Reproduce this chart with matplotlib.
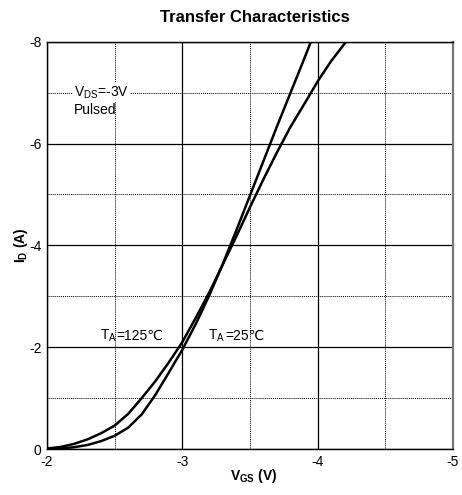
import numpy as np
import matplotlib
matplotlib.use('Agg')
import matplotlib.pyplot as plt
from matplotlib.ticker import MultipleLocator

plt.rcParams['font.family'] = ['Liberation Sans', 'DejaVu Sans']
plt.rcParams['mathtext.fontset'] = 'custom'
plt.rcParams['mathtext.rm'] = 'Liberation Sans'
plt.rcParams['mathtext.bf'] = 'Liberation Sans:bold'
plt.rcParams['axes.unicode_minus'] = False

# datos
vgs_25 = [-2.0, -2.1, -2.2, -2.3, -2.4, -2.5, -2.6, -2.7, -2.8, -2.9, -3.0,
          -3.1, -3.2, -3.3, -3.4, -3.5, -3.6, -3.7, -3.8, -3.9, -3.95]
id_25 = [0.0, -0.01, -0.035, -0.08, -0.155, -0.26, -0.42, -0.68, -1.06, -1.50, -1.95,
         -2.46, -3.02, -3.64, -4.30, -4.98, -5.66, -6.34, -7.0, -7.66, -8.0]

vgs_125 = [-2.0, -2.1, -2.2, -2.3, -2.4, -2.5, -2.6, -2.7, -2.8, -2.9, -3.0,
           -3.1, -3.2, -3.3, -3.4, -3.5, -3.6, -3.7, -3.8, -3.9, -4.0, -4.1, -4.21]
id_125 = [-0.01, -0.04, -0.10, -0.19, -0.31, -0.46, -0.69, -1.0, -1.33, -1.70, -2.1,
          -2.58, -3.08, -3.63, -4.18, -4.75, -5.30, -5.83, -6.33, -6.77, -7.22, -7.62, -8.0]

x_ticks = [-2, -3, -4, -5]
y_ticks = [0, -2, -4, -6, -8]

fig = plt.figure(figsize=(4.62, 4.95), dpi=100)
ax = fig.add_axes([0.1017, 0.0929, 0.8788, 0.8229])

ax.set_xlim(-2, -5)
ax.set_ylim(0, -8)
ax.set_xticks(x_ticks)
ax.set_yticks(y_ticks)
ax.xaxis.set_minor_locator(MultipleLocator(0.5))
ax.yaxis.set_minor_locator(MultipleLocator(1))
ax.grid(True, which='major', color='black', linestyle='-', linewidth=0.9)
ax.grid(True, which='minor', color='black', linestyle=(0, (1, 1)), linewidth=0.7)
ax.tick_params(which='both', length=0, labelsize=10, pad=4)
ax.set_axisbelow(True)
for s in ax.spines.values():
    s.set_linewidth(1.0)
ax.spines['right'].set_color('#777777')
ax.spines['right'].set_linewidth(1.6)

ax.plot(vgs_25, id_25, color='black', linewidth=1.8, solid_joinstyle='round')
ax.plot(vgs_125, id_125, color='black', linewidth=1.8, solid_joinstyle='round')

ax.set_title('Transfer Characteristics', fontsize=12, fontweight='bold', pad=14, x=0.512)
ax.set_xlabel(r'$\mathbf{V_{GS}}$ (V)', fontsize=10, fontweight='bold')
ax.xaxis.set_label_coords(0.51, -0.045)
ax.set_ylabel(r'$\mathbf{I_{D}}$ (A)', fontsize=10, fontweight='bold')
ax.yaxis.set_label_coords(-0.042, 0.5)

ax.text(-2.2, -7.0, r'V$_{\mathrm{DS}}$=-3V', fontsize=10, va='center', ha='left',
        bbox=dict(facecolor='white', edgecolor='none', pad=1))
ax.text(-2.2, -6.65, 'Pulsed', fontsize=10, va='center', ha='left')


def temp_label(x, y, rest):
    t1 = ax.text(x, y, r'T$_{\mathrm{A}}$', fontsize=10, va='baseline', ha='left')
    ax.annotate(rest, xy=(1, y), xycoords=(t1, 'data'), fontsize=10,
                va='baseline', ha='left')


temp_label(-2.39, -2.15, '=125℃')
temp_label(-3.19, -2.15, '=25℃')

fig.savefig('out.png', dpi=100)
